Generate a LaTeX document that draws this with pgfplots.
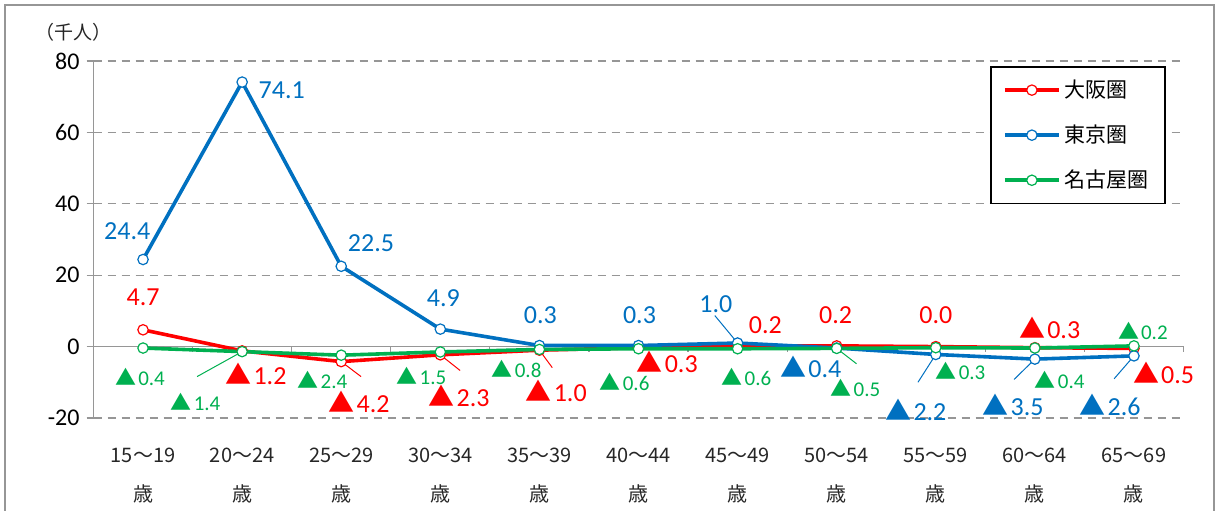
\documentclass[border=0pt]{standalone}
\usepackage{fontspec}
\setmainfont{Carlito}
\newfontfamily\jp{Noto Sans CJK JP}
\usepackage{pgfplots}
\pgfplotsset{compat=1.18}
\definecolor{ored}{RGB}{255,0,0}
\definecolor{tblue}{RGB}{0,112,192}
\definecolor{ngreen}{RGB}{0,176,80}
\definecolor{gridgray}{RGB}{150,150,150}
\newcommand\tri{{\jp ▲}}
\newcommand\lblR{\fontsize{13}{14}\selectfont}
\newcommand\lblG{\fontsize{10.5}{12}\selectfont}
\tikzset{lab/.style={inner sep=0.5pt}}
\begin{document}
\begin{tikzpicture}
\useasboundingbox (0,0) rectangle (610pt,255pt);
\draw[gridgray, line width=0.6pt] (2.5pt,-5pt) rectangle (607pt,252.5pt);
\node[font=\jp\fontsize{9.5}{11}\selectfont, text=black!85] at (36.5pt,239pt) {（千人）};
\begin{axis}[
  at={(46.75pt,46pt)}, anchor=south west,
  scale only axis, width=545pt, height=178.5pt,
  xmin=-0.5, xmax=10.5, ymin=-20, ymax=80,
  axis y line*=left, axis x line*=bottom,
  x axis line style={draw=none},
  y axis line style={gridgray, line width=0.6pt},
  xtick={0,...,10},
  xticklabels={{15～19\\歳},{20～24\\歳},{25～29\\歳},{30～34\\歳},{35～39\\歳},{40～44\\歳},{45～49\\歳},{50～54\\歳},{55～59\\歳},{60～64\\歳},{65～69\\歳}},
  xticklabel style={align=center, font=\jp\fontsize{10}{19.5}\selectfont, text=black!85, yshift=-8pt},
  x tick style={draw=none},
  ytick={-20,0,20,40,60,80},
  y tick style={gridgray, line width=0.6pt},
  tick align=outside, major tick length=3.5pt,
  yticklabel style={font=\fontsize{12}{12}\selectfont},
  /pgf/number format/assume math mode=true,
  ymajorgrids, grid style={gridgray, dashed, line width=0.6pt, dash pattern=on 4pt off 3pt},
  legend style={at={(axis description cs:1,1)}, anchor=north east, xshift=-9pt, yshift=-2.5pt,
    draw=black, line width=0.8pt, font=\jp\fontsize{10.5}{12}\selectfont,
    row sep=8.2pt, inner xsep=6pt, inner ysep=4.5pt},
  legend cell align=left,
  legend image code/.code={\draw[mark repeat=2,mark phase=2] plot coordinates {(0pt,0pt) (13.5pt,0pt) (27pt,0pt)};},
  every axis plot/.append style={line width=1.8pt, mark=*, mark size=2.6pt},
  clip=false,
]
% zero line and ticks
\draw[gridgray, line width=0.6pt] (axis cs:-0.5,0) -- (axis cs:10.5,0);
\pgfplotsinvokeforeach{0,...,10}{\draw[gridgray, line width=0.6pt] (axis cs:#1+0.5,0) -- ++(0pt,-2.5pt);}
% leader lines
\draw[ngreen, line width=0.5pt] (axis cs:1,-1.4) -- (axis cs:0.545,-8.4);
\draw[ored, line width=0.5pt] (axis cs:2,-4.2) -- (axis cs:2.2,-8.4);
\draw[ored, line width=0.5pt] (axis cs:3,-2.3) -- (axis cs:3.2,-6.7);
\draw[ored, line width=0.5pt] (axis cs:4,-1.0) -- (axis cs:4.13,-5.9);
\draw[tblue, line width=0.5pt] (axis cs:6,1.0) -- (axis cs:5.77,8.7);
\draw[ngreen, line width=0.5pt] (axis cs:7,-0.5) -- (axis cs:7.2,-4.8);
\draw[tblue, line width=0.5pt] (axis cs:8,-2.2) -- (axis cs:7.82,-10);
\draw[tblue, line width=0.5pt] (axis cs:9,-3.5) -- (axis cs:8.79,-9.2);
\draw[tblue, line width=0.5pt] (axis cs:10,-2.6) -- (axis cs:9.8,-9.0);

\addplot[ored, mark options={draw=ored, fill=white, line width=0.6pt}] coordinates {(0,4.7)(1,-1.2)(2,-4.2)(3,-2.3)(4,-1.0)(5,-0.3)(6,0.2)(7,0.2)(8,0.0)(9,-0.3)(10,-0.5)};
\addlegendentry{大阪圏}
\addplot[tblue, mark options={draw=tblue, fill=white, line width=0.6pt}] coordinates {(0,24.4)(1,74.1)(2,22.5)(3,4.9)(4,0.3)(5,0.3)(6,1.0)(7,-0.4)(8,-2.2)(9,-3.5)(10,-2.6)};
\addlegendentry{東京圏}
\addplot[ngreen, mark options={draw=ngreen, fill=white, line width=0.6pt}] coordinates {(0,-0.4)(1,-1.4)(2,-2.4)(3,-1.5)(4,-0.8)(5,-0.6)(6,-0.6)(7,-0.5)(8,-0.3)(9,-0.4)(10,0.2)};
\addlegendentry{名古屋圏}

% blue labels
\node[lab, tblue, font=\lblR] at (axis cs:-0.16,32.2) {24.4};
\node[lab, tblue, font=\lblR] at (axis cs:1.4,71.7) {74.1};
\node[lab, tblue, font=\lblR] at (axis cs:2.3,28.9) {22.5};
\node[lab, tblue, font=\lblR] at (axis cs:3.03,13.7) {4.9};
\node[lab, tblue, font=\lblR] at (axis cs:4.01,8.7) {0.3};
\node[lab, tblue, font=\lblR] at (axis cs:5.01,8.7) {0.3};
\node[lab, tblue, font=\lblR] at (axis cs:5.78,12) {1.0};
\node[lab, tblue, font=\lblR] at (axis cs:6.74,-5.6) {\tri\hspace{1pt}0.4};
\node[lab, tblue, font=\lblR] at (axis cs:7.8,-17.6) {\tri\hspace{1pt}2.2};
\node[lab, tblue, font=\lblR] at (axis cs:8.78,-16.2) {\tri\hspace{1pt}3.5};
\node[lab, tblue, font=\lblR] at (axis cs:9.76,-16.2) {\tri\hspace{1pt}2.6};
% red labels
\node[lab, ored, font=\lblR] at (axis cs:0,13.7) {4.7};
\node[lab, ored, font=\lblR] at (axis cs:1.14,-7.6) {\tri\hspace{1pt}1.2};
\node[lab, ored, font=\lblR] at (axis cs:2.18,-15.4) {\tri\hspace{1pt}4.2};
\node[lab, ored, font=\lblR] at (axis cs:3.19,-13.9) {\tri\hspace{1pt}2.3};
\node[lab, ored, font=\lblR] at (axis cs:4.17,-12.3) {\tri\hspace{1pt}1.0};
\node[lab, ored, font=\lblR] at (axis cs:5.29,-4.2) {\tri\hspace{1pt}0.3};
\node[lab, ored, font=\lblR] at (axis cs:6.28,5.9) {0.2};
\node[lab, ored, font=\lblR] at (axis cs:6.99,8.7) {0.2};
\node[lab, ored, font=\lblR] at (axis cs:8,8.7) {0.0};
\node[lab, ored, font=\lblR] at (axis cs:9.15,5.3) {\tri\hspace{1pt}0.3};
\node[lab, ored, font=\lblR] at (axis cs:10.3,-7.3) {\tri\hspace{1pt}0.5};
% green labels
\node[lab, ngreen, font=\lblG] at (axis cs:-0.03,-8.4) {\tri\hspace{1pt}0.4};
\node[lab, ngreen, font=\lblG] at (axis cs:0.53,-15.4) {\tri\hspace{1pt}1.4};
\node[lab, ngreen, font=\lblG] at (axis cs:1.81,-9.2) {\tri\hspace{1pt}2.4};
\node[lab, ngreen, font=\lblG] at (axis cs:2.81,-8.2) {\tri\hspace{1pt}1.5};
\node[lab, ngreen, font=\lblG] at (axis cs:3.77,-6.2) {\tri\hspace{1pt}0.8};
\node[lab, ngreen, font=\lblG] at (axis cs:4.86,-10) {\tri\hspace{1pt}0.6};
\node[lab, ngreen, font=\lblG] at (axis cs:6.09,-8.4) {\tri\hspace{1pt}0.6};
\node[lab, ngreen, font=\lblG] at (axis cs:7.19,-11.5) {\tri\hspace{1pt}0.5};
\node[lab, ngreen, font=\lblG] at (axis cs:8.25,-6.7) {\tri\hspace{1pt}0.3};
\node[lab, ngreen, font=\lblG] at (axis cs:9.25,-9.2) {\tri\hspace{1pt}0.4};
\node[lab, ngreen, font=\lblG] at (axis cs:10.09,4.5) {\tri\hspace{1pt}0.2};
\end{axis}
\end{tikzpicture}
\end{document}
